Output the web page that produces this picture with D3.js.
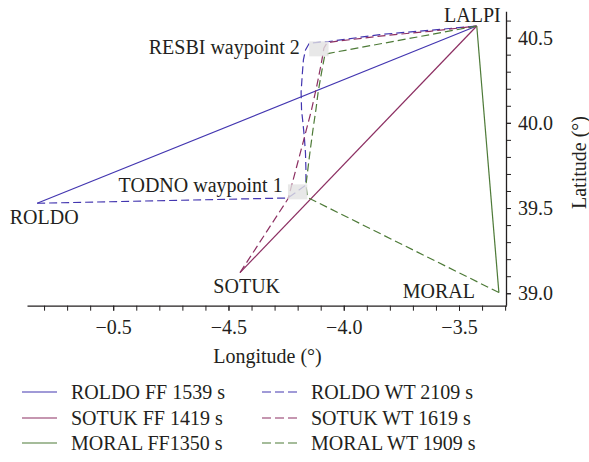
<!DOCTYPE html>
<html>
<head>
<meta charset="utf-8">
<script src="https://cdn.jsdelivr.net/npm/d3@7"></script>
<style>
  html, body { margin: 0; padding: 0; background: #fff; }
  svg { display: block; }
  text { font-family: "Liberation Serif", "Times New Roman", serif; fill: #231f20; }
</style>
</head>
<body>
<svg id="chart" width="589" height="462"></svg>
<script>
// Entry points of the sector and the common exit fix (degrees)
const endpointNames = ["ROLDO", "SOTUK", "MORAL", "LALPI"];
const endpointLon   = [-5.330, -4.450, -3.327, -3.423];
const endpointLat   = [39.528, 39.121, 39.004, 40.568];

// Intermediate waypoints flown by the WT trajectories
const waypointNames = ["TODNO waypoint 1", "RESBI waypoint 2"];
const waypointLon   = [-4.200, -4.108];
const waypointLat   = [39.595, 40.434];
const waypointHalfLon = 0.042;
const waypointHalfLat = 0.044;

// Legend entries
const seriesLabels = ["ROLDO FF 1539 s", "SOTUK FF 1419 s", "MORAL FF1350 s",
                      "ROLDO WT 2109 s", "SOTUK WT 1619 s", "MORAL WT 1909 s"];

// WT tracks (longitude / latitude samples)
const roldoWtLon = [-5.330, -4.242, -4.164, -4.164, -4.166, -4.171, -4.177, -4.183, -4.185, -4.180, -4.175, -4.166, -4.149, -4.064, -3.843, -3.626, -3.423];
const roldoWtLat = [39.528, 39.559, 39.635, 39.723, 39.823, 39.917, 39.999, 40.075, 40.181, 40.281, 40.369, 40.427, 40.468, 40.477, 40.518, 40.543, 40.568];
const sotukWtLon = [-4.450, -4.241, -4.177, -4.140, -4.116, -4.097, -4.086, -4.073, -4.056, -3.843, -3.626, -3.423];
const sotukWtLat = [39.121, 39.556, 39.882, 40.075, 40.222, 40.351, 40.439, 40.468, 40.474, 40.509, 40.537, 40.568];
const moralWtLon = [-3.327, -4.157, -4.164, -4.147, -4.132, -4.121, -4.111, -4.096, -4.082, -4.064, -3.423];
const moralWtLat = [39.004, 39.562, 39.635, 39.823, 39.975, 40.075, 40.181, 40.298, 40.398, 40.408, 40.568];

// Axis ticks
const xMajorTicks  = [-5.0, -4.5, -4.0, -3.5];
const xTickLabels  = ["\u22120.5", "\u22124.5", "\u22124.0", "\u22123.5"];
const xMinorTicks  = d3.range(-53, -32).map(v => v / 10);
const yMajorTicks  = [39.0, 39.5, 40.0, 40.5];
const yTickLabels  = ["39.0", "39.5", "40.0", "40.5"];
const yMinorTicks  = d3.range(390, 407).map(v => v / 10);

const colors = ["#4336b0", "#8c2f62", "#4d7a37"];

const svg = d3.select("#chart");
const x = d3.scaleLinear().domain([-5.374, -3.294]).range([27, 506.5]);
const y = d3.scaleLinear().domain([38.927, 40.652]).range([305.7, 11.7]);

const line = d3.line().x(d => x(d[0])).y(d => y(d[1]));
const zip = (a, b) => a.map((v, i) => [v, b[i]]);

const iL = endpointNames.indexOf("LALPI");
const exitPt = [endpointLon[iL], endpointLat[iL]];

// Free-flight (direct) tracks
const plot = svg.append("g");
[0, 1, 2].forEach(i => {
  plot.append("path")
    .attr("d", line([[endpointLon[i], endpointLat[i]], exitPt]))
    .attr("fill", "none")
    .attr("stroke", colors[i])
    .attr("stroke-width", 1.2);
});

// Waypoint-constrained tracks
const wtTracks = [zip(roldoWtLon, roldoWtLat), zip(sotukWtLon, sotukWtLat), zip(moralWtLon, moralWtLat)];
wtTracks.forEach((pts, i) => {
  plot.append("path")
    .attr("d", line(pts))
    .attr("fill", "none")
    .attr("stroke", colors[i])
    .attr("stroke-width", 1.2)
    .attr("stroke-dasharray", "8,4")
    .attr("stroke-linejoin", "round");
});

// Waypoint areas
waypointLon.forEach((lon, i) => {
  const lat = waypointLat[i];
  plot.append("rect")
    .attr("x", x(lon - waypointHalfLon))
    .attr("y", y(lat + waypointHalfLat))
    .attr("width", x(lon + waypointHalfLon) - x(lon - waypointHalfLon))
    .attr("height", y(lat - waypointHalfLat) - y(lat + waypointHalfLat))
    .attr("fill", "#e2e2e2")
    .attr("fill-opacity", 0.8);
});

// Point labels
const fs = 20;
const ptLabel = (txt, px, py, anchor) =>
  svg.append("text").attr("x", px).attr("y", py).attr("text-anchor", anchor)
    .attr("font-size", fs).text(txt);

ptLabel("LALPI", x(endpointLon[3]) + 24, y(endpointLat[3]) - 4.3, "end");
ptLabel("ROLDO", x(endpointLon[0]) + 7, y(endpointLat[0]) + 21, "middle");
ptLabel("SOTUK", x(endpointLon[1]) + 6.7, y(endpointLat[1]) + 20.6, "middle");
ptLabel("MORAL", x(endpointLon[2]) - 24, y(endpointLat[2]) + 5.6, "end");
ptLabel(waypointNames[0], x(waypointLon[0]) - 15, y(waypointLat[0]) + 0.5, "end");
ptLabel(waypointNames[1], x(waypointLon[1]) - 19, y(waypointLat[1]) + 5, "end");

// X axis
const gx = svg.append("g").attr("transform", "translate(0,305.7)");
gx.call(d3.axisBottom(x).tickValues(xMinorTicks).tickSize(5).tickSizeOuter(0).tickFormat(""));
const gxMaj = svg.append("g").attr("transform", "translate(0,305.7)");
gxMaj.call(d3.axisBottom(x).tickValues(xMajorTicks).tickSize(5).tickSizeOuter(0).tickPadding(9)
  .tickFormat((d, i) => xTickLabels[i]));
gxMaj.select(".domain").remove();

// Y axis
const gy = svg.append("g").attr("transform", "translate(506,0)");
gy.call(d3.axisRight(y).tickValues(yMinorTicks).tickSize(5).tickSizeOuter(0).tickFormat(""));
const gyMaj = svg.append("g").attr("transform", "translate(506,0)");
gyMaj.call(d3.axisRight(y).tickValues(yMajorTicks).tickSize(5).tickSizeOuter(0).tickPadding(7)
  .tickFormat((d, i) => yTickLabels[i]));
gyMaj.select(".domain").remove();

// extend the y axis line down to meet the x axis
gy.select(".domain").attr("d", `M0.5,${y.range()[1]}V${y.range()[0]}`);

svg.selectAll(".domain").attr("stroke", "#231f20").attr("stroke-width", 1.3);
svg.selectAll(".tick line").attr("stroke", "#231f20").attr("stroke-width", 1);
svg.selectAll(".tick text")
  .attr("font-family", "'Liberation Serif', 'Times New Roman', serif")
  .attr("font-size", fs).attr("fill", "#231f20");

// Axis titles
svg.append("text").attr("x", 267.5).attr("y", 363).attr("text-anchor", "middle")
  .attr("font-size", fs).text("Longitude (\u00b0)");
svg.append("text").attr("transform", "translate(586,162.5) rotate(-90)")
  .attr("text-anchor", "middle").attr("font-size", fs).text("Latitude (\u00b0)");

// Legend
const legend = svg.append("g");
seriesLabels.forEach((lab, i) => {
  const col = Math.floor(i / 3), row = i % 3;
  const lx = col === 0 ? 22 : 262;
  const ly = 392 + Math.round(row * 25.5);
  legend.append("line")
    .attr("x1", lx).attr("x2", lx + 35).attr("y1", ly).attr("y2", ly)
    .attr("stroke", colors[row]).attr("stroke-width", 1.2)
    .attr("stroke-dasharray", col === 1 ? "9,4" : null);
  legend.append("text")
    .attr("x", lx + 49).attr("y", ly + 7)
    .attr("font-size", fs).text(lab);
});
</script>
</body>
</html>
